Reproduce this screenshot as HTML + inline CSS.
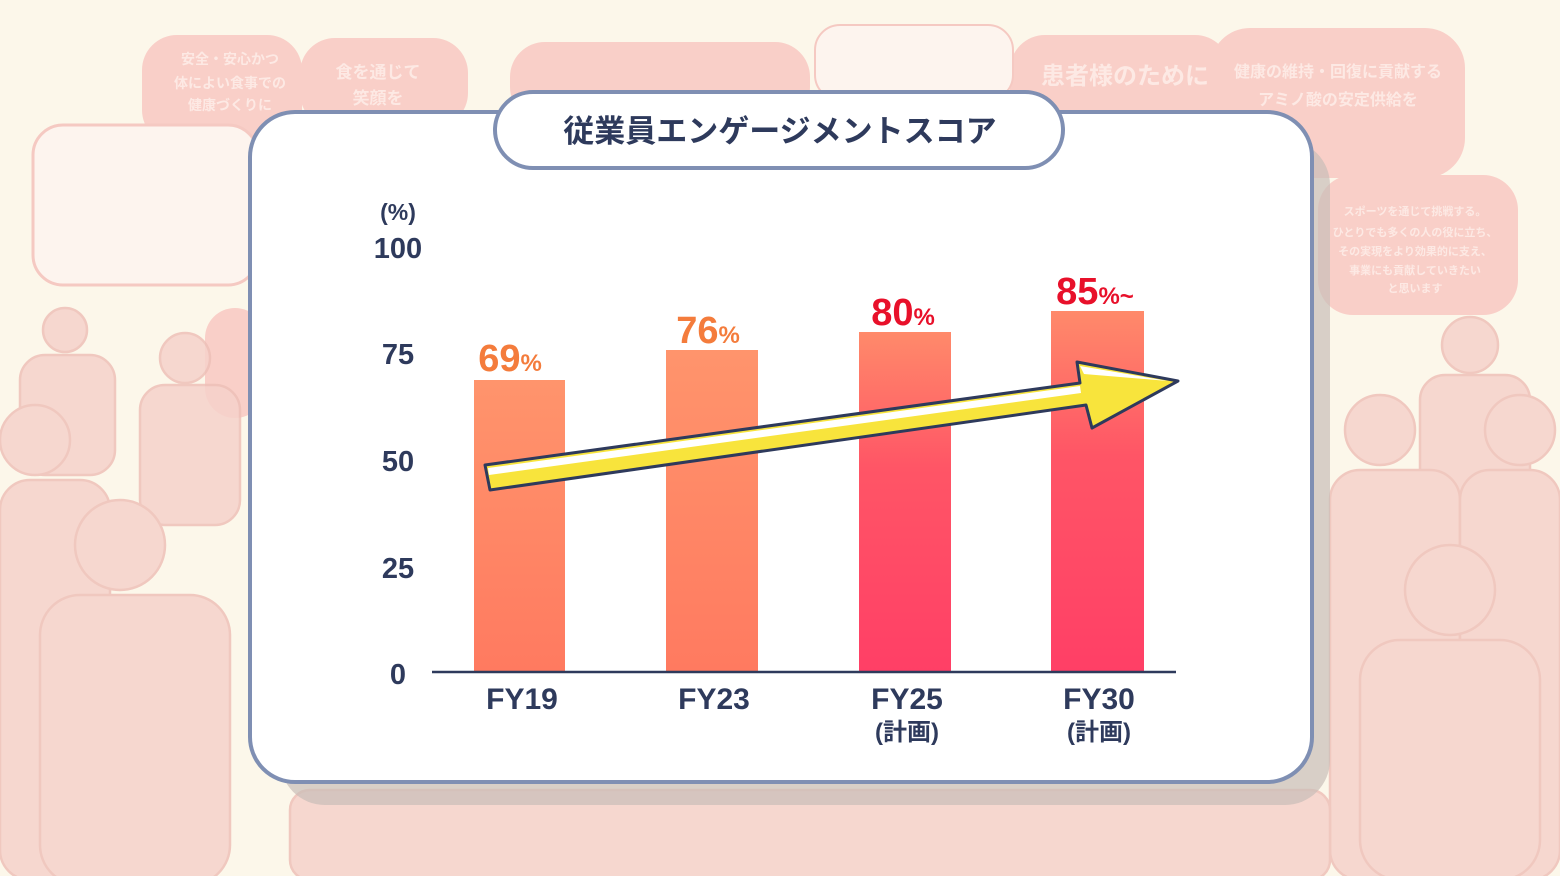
<!DOCTYPE html>
<html><head><meta charset="utf-8"><style>
html,body{margin:0;padding:0;width:1560px;height:876px;overflow:hidden;background:#fcf7ea;}
svg{display:block}
text{font-family:"Liberation Sans","Noto Sans CJK JP",sans-serif;font-weight:bold}
</style></head><body>
<svg width="1560" height="876" viewBox="0 0 1560 876">
<defs>
<linearGradient id="go" x1="0" y1="0" x2="0" y2="1"><stop offset="0" stop-color="#ff946c"/><stop offset="1" stop-color="#ff7a60"/></linearGradient>
<linearGradient id="gr" x1="0" y1="0" x2="0" y2="1"><stop offset="0" stop-color="#ff8a6a"/><stop offset="0.4" stop-color="#ff5566"/><stop offset="1" stop-color="#ff3f66"/></linearGradient>
</defs>
<rect width="1560" height="876" fill="#fcf7ea"/>
<g fill="#f9cfc8">
<rect x="142" y="35" width="160" height="110" rx="35"/>
<rect x="300" y="38" width="168" height="90" rx="35"/>
<rect x="510" y="42" width="300" height="80" rx="35"/>
<rect x="1010" y="35" width="220" height="90" rx="35"/>
<rect x="1210" y="28" width="255" height="150" rx="40"/>
<rect x="1318" y="175" width="200" height="140" rx="35"/>
<rect x="205" y="308" width="60" height="110" rx="30"/>
</g>
<rect x="815" y="25" width="198" height="75" rx="25" fill="#fdf4ee" stroke="#f5c9c2" stroke-width="2"/>
<rect x="33" y="125" width="225" height="160" rx="30" fill="#fdf4ee" stroke="#f5c9c2" stroke-width="3"/>
<g fill="#fde9e4" font-size="14">
<text x="230" y="64" text-anchor="middle">安全・安心かつ</text>
<text x="230" y="88" text-anchor="middle">体によい食事での</text>
<text x="230" y="110" text-anchor="middle">健康づくりに</text>
<text x="378" y="78" text-anchor="middle" font-size="17">食を通じて</text>
<text x="378" y="104" text-anchor="middle" font-size="17">笑顔を</text>
<text x="1125" y="84" text-anchor="middle" font-size="24">患者様のために</text>
<text x="1338" y="77" text-anchor="middle" font-size="16">健康の維持・回復に貢献する</text>
<text x="1338" y="105" text-anchor="middle" font-size="16">アミノ酸の安定供給を</text>
<text x="1415" y="215" text-anchor="middle" font-size="11">スポーツを通じて挑戦する。</text>
<text x="1415" y="236" text-anchor="middle" font-size="11">ひとりでも多くの人の役に立ち、</text>
<text x="1415" y="255" text-anchor="middle" font-size="11">その実現をより効果的に支え、</text>
<text x="1415" y="274" text-anchor="middle" font-size="11">事業にも貢献していきたい</text>
<text x="1415" y="292" text-anchor="middle" font-size="11">と思います</text>
</g>
<g fill="#f6d2cb" stroke="#eec0b8" stroke-width="2.5" opacity="0.85">
<circle cx="65" cy="330" r="22"/><rect x="20" y="355" width="95" height="120" rx="25"/>
<circle cx="185" cy="358" r="25"/><rect x="140" y="385" width="100" height="140" rx="25"/>
<circle cx="35" cy="440" r="35"/><rect x="0" y="480" width="110" height="400" rx="30"/>
<circle cx="120" cy="545" r="45"/><rect x="40" y="595" width="190" height="290" rx="40"/>
<circle cx="1470" cy="345" r="28"/><rect x="1420" y="375" width="110" height="150" rx="25"/>
<circle cx="1380" cy="430" r="35"/><rect x="1330" y="470" width="130" height="410" rx="30"/>
<circle cx="1520" cy="430" r="35"/><rect x="1460" y="470" width="100" height="410" rx="30"/>
<circle cx="1450" cy="590" r="45"/><rect x="1360" y="640" width="180" height="240" rx="40"/>
<rect x="290" y="790" width="1040" height="90" rx="20"/>
</g>
<rect x="280" y="140" width="1050" height="665" rx="45" fill="#c9bdb8" opacity="0.7"/>
<rect x="250" y="112" width="1062" height="670" rx="45" fill="#fff" stroke="#7f8fb3" stroke-width="4"/>
<rect x="495" y="92" width="568" height="76" rx="38" fill="#fff" stroke="#7f8fb3" stroke-width="4"/>
<text x="780" y="142" text-anchor="middle" font-size="31" fill="#2e3a5c">従業員エンゲージメントスコア</text>
<g fill="#2e3a5c" font-size="29" text-anchor="middle">
<text x="398" y="220" font-size="23">(%)</text>
<text x="398" y="258">100</text>
<text x="398" y="364">75</text>
<text x="398" y="471">50</text>
<text x="398" y="578">25</text>
<text x="398" y="684">0</text>
</g>
<rect x="474" y="380" width="91" height="292" fill="url(#go)"/>
<rect x="666" y="350" width="92" height="322" fill="url(#go)"/>
<rect x="859" y="332" width="92" height="340" fill="url(#gr)"/>
<rect x="1051" y="311" width="93" height="361" fill="url(#gr)"/>
<line x1="432" y1="672" x2="1176" y2="672" stroke="#2e3a5c" stroke-width="2.5"/>
<g font-size="38">
<text x="510" y="371" fill="#f47c3c" text-anchor="middle">69<tspan font-size="24">%</tspan></text>
<text x="708" y="343" fill="#f47c3c" text-anchor="middle">76<tspan font-size="24">%</tspan></text>
<text x="903" y="325" fill="#e8102a" text-anchor="middle">80<tspan font-size="24">%</tspan></text>
<text x="1095" y="304" fill="#e8102a" text-anchor="middle">85<tspan font-size="24">%~</tspan></text>
</g>
<g fill="#2e3a5c" font-size="30" text-anchor="middle">
<text x="522" y="709">FY19</text>
<text x="714" y="709">FY23</text>
<text x="907" y="709">FY25</text>
<text x="1099" y="709">FY30</text>
<text x="907" y="740" font-size="24">(計画)</text>
<text x="1099" y="740" font-size="24">(計画)</text>
</g>
<polygon points="485,465 1080,383 1077,362 1178,381 1092,428 1086,405 490,490" fill="#f8e43c" stroke="#2e3a5c" stroke-width="3" stroke-linejoin="round"/>
<polygon points="488,468 1080,386 1081,393 489,475" fill="#fff"/>
<polygon points="1080,366 1168,381 1084,374" fill="#fff"/>
</svg>
</body></html>
